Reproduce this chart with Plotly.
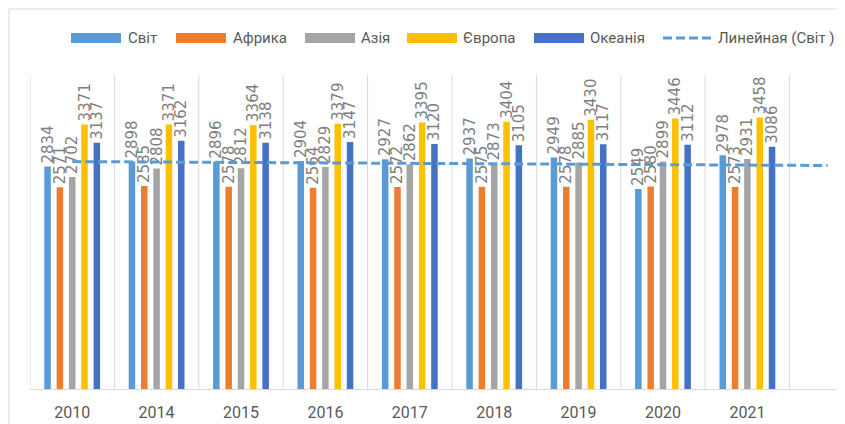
import numpy as np
import plotly.graph_objects as go

years = ["2010", "2014", "2015", "2016", "2017", "2018", "2019", "2020", "2021"]
svit = [2834, 2898, 2896, 2904, 2927, 2937, 2949, 2549, 2978]
afryka = [2571, 2585, 2578, 2564, 2572, 2575, 2578, 2580, 2573]
aziia = [2702, 2808, 2812, 2829, 2862, 2873, 2885, 2899, 2931]
yevropa = [3371, 3371, 3364, 3379, 3395, 3404, 3430, 3446, 3458]
okeaniia = [3137, 3162, 3138, 3147, 3120, 3105, 3117, 3112, 3086]

series_names = ["Світ", "Африка", "Азія", "Європа", "Океанія"]
series_vals = [svit, afryka, aziia, yevropa, okeaniia]
colors = ["#5B9BD5", "#ED7D31", "#A5A5A5", "#FFC000", "#4472C4"]
trend_name = "Линейная (Світ )"

# page body adds an 8px offset; work in screenshot coordinates and subtract it
OFF = 8
W, H = 845 - OFF, 424 - OFF
PLOT_L, PLOT_T, PLOT_B = 30, 75, 389          # screenshot pixels
L, R, T, B = PLOT_L - OFF, 0, PLOT_T - OFF, H - (PLOT_B - OFF)
PW, PH = W - L - R, H - T - B
CAT_W = 84.4
x = list(range(len(years)))
x_max = -0.5 + PW / CAT_W

TXT_FONT = "Roboto, Liberation Sans, sans-serif"
LABEL_FONT = "DejaVu Sans, Liberation Sans, sans-serif"
TXT_COL = "#595959"

fig = go.Figure()
for name, vals, col in zip(series_names, series_vals, colors):
    fig.add_trace(go.Bar(
        x=x, y=vals, name=name, marker=dict(color=col, line=dict(width=0)),
        text=[str(v) for v in vals], textposition="outside", textangle=-90,
        constraintext="none", cliponaxis=False,
        textfont=dict(color="#7F7F7F", size=15, family=LABEL_FONT),
        showlegend=False,
    ))

# linear trend of Світ, with forward extension
coef = np.polyfit(np.arange(len(svit)), np.array(svit, dtype=float), 1)
tx = np.array([0.0, len(svit) - 1 + 0.95])
ty = np.polyval(coef, tx)
fig.add_trace(go.Scatter(
    x=tx, y=ty, mode="lines", name=trend_name, showlegend=False,
    line=dict(color="#5B9BD5", width=3, dash="9px,4px"), cliponaxis=False,
))

def px_x(p):  # screenshot px -> paper
    return (p - OFF - L) / PW

def px_y(p):
    return (PLOT_B - p) / PH

shapes = []
# outer chart border
shapes.append(dict(type="rect", xref="paper", yref="paper",
                   x0=px_x(9), x1=px_x(900), y0=px_y(480), y1=px_y(9),
                   line=dict(color="#D9D9D9", width=1), layer="below"))
# vertical category gridlines
for k in range(len(years) + 1):
    shapes.append(dict(type="line", xref="x", yref="paper",
                       x0=k - 0.5, x1=k - 0.5, y0=0, y1=1,
                       line=dict(color="#D9D9D9", width=1), layer="below"))

# custom legend
annotations = []
leg_y = 38
sw_x = [71, 176, 305, 407, 534]
txt_x = [126, 231, 359, 461, 588]
for sx, tx_, name, col in zip(sw_x, txt_x, series_names, colors):
    shapes.append(dict(type="rect", xref="paper", yref="paper",
                       x0=px_x(sx), x1=px_x(sx + 50), y0=px_y(leg_y + 5), y1=px_y(leg_y - 5),
                       fillcolor=col, line=dict(width=0)))
    annotations.append(dict(xref="paper", yref="paper", x=px_x(tx_), y=px_y(leg_y),
                            text=name, showarrow=False, xanchor="left", yanchor="middle",
                            font=dict(color=TXT_COL, size=15, family=TXT_FONT, weight=400)))
shapes.append(dict(type="line", xref="paper", yref="paper",
                   x0=px_x(663), x1=px_x(713), y0=px_y(leg_y), y1=px_y(leg_y),
                   line=dict(color="#5B9BD5", width=3, dash="9px,4px")))
annotations.append(dict(xref="paper", yref="paper", x=px_x(716), y=px_y(leg_y),
                        text=trend_name, showarrow=False, xanchor="left", yanchor="middle",
                        font=dict(color=TXT_COL, size=15, family=TXT_FONT, weight=400)))

fig.update_layout(
    width=W, height=H, margin=dict(l=L, r=R, t=T, b=B),
    paper_bgcolor="white", plot_bgcolor="white",
    barmode="group", bargap=0.27, bargroupgap=0.47,
    showlegend=False, shapes=shapes, annotations=annotations,
    xaxis=dict(range=[-0.5, x_max], tickvals=x, ticktext=years, showgrid=False,
               zeroline=False, showline=True, linecolor="#D9D9D9", linewidth=1,
               ticks="outside", ticklen=9, tickcolor="rgba(0,0,0,0)",
               tickfont=dict(color=TXT_COL, size=16, family=TXT_FONT, weight=400)),
    yaxis=dict(range=[0, 4000], visible=False, showgrid=False, zeroline=False),
)

fig.write_html("out.html")
